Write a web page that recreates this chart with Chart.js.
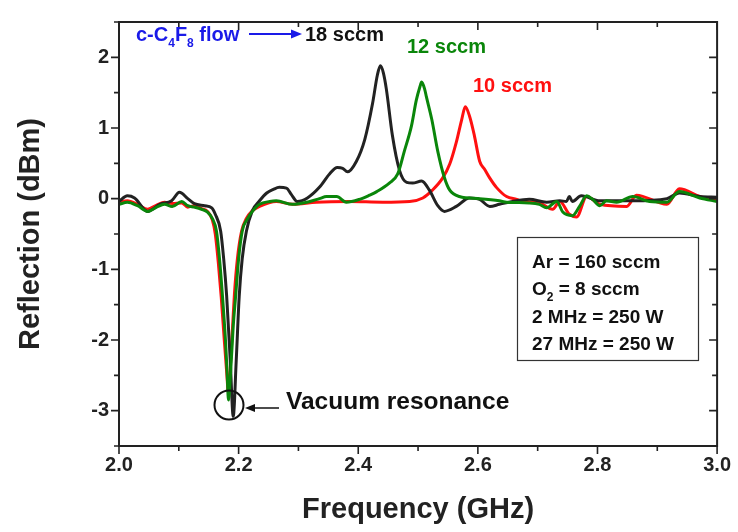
<!DOCTYPE html>
<html><head><meta charset="utf-8">
<script src="https://cdn.jsdelivr.net/npm/chart.js@4.4.0/dist/chart.umd.min.js"></script>
<style>html,body{margin:0;padding:0;background:#fff;}</style>
</head><body>
<canvas id="c" width="738" height="532"></canvas>
<script>
// ---- data ----
const freq18 = [2.000,2.014,2.026,2.048,2.068,2.088,2.101,2.115,2.126,2.143,2.155,2.161,2.170,2.175,2.180,2.186,2.191,2.196,2.201,2.206,2.213,2.223,2.235,2.247,2.258,2.268,2.280,2.288,2.298,2.315,2.335,2.352,2.365,2.374,2.382,2.397,2.411,2.424,2.432,2.437,2.442,2.447,2.457,2.469,2.481,2.491,2.506,2.519,2.533,2.544,2.564,2.586,2.603,2.620,2.636,2.658,2.686,2.715,2.737,2.748,2.753,2.758,2.773,2.804,2.859,2.916,2.937,2.971,3.000];
const refl18 = [-0.04,0.04,0.01,-0.18,-0.08,-0.03,0.09,0.0,-0.07,-0.1,-0.13,-0.22,-0.46,-0.85,-1.38,-2.29,-3.08,-2.29,-1.38,-0.85,-0.46,-0.17,-0.03,0.08,0.13,0.16,0.15,0.06,-0.04,0.01,0.16,0.35,0.44,0.43,0.38,0.53,0.84,1.35,1.75,1.88,1.78,1.55,0.9,0.4,0.23,0.22,0.25,0.12,-0.1,-0.18,-0.11,0.01,-0.01,-0.11,-0.08,-0.04,-0.01,-0.05,-0.03,-0.04,0.03,-0.04,0.04,-0.03,-0.03,0.0,0.08,0.03,0.02];

const freq12 = [2.000,2.014,2.031,2.048,2.063,2.076,2.089,2.105,2.115,2.126,2.138,2.148,2.156,2.163,2.168,2.173,2.178,2.181,2.183,2.187,2.191,2.195,2.200,2.206,2.215,2.223,2.235,2.252,2.263,2.290,2.319,2.335,2.347,2.364,2.380,2.402,2.419,2.431,2.452,2.466,2.477,2.489,2.497,2.503,2.506,2.511,2.514,2.523,2.533,2.544,2.553,2.569,2.603,2.636,2.648,2.686,2.703,2.715,2.732,2.742,2.758,2.770,2.782,2.792,2.804,2.815,2.832,2.859,2.887,2.916,2.937,2.971,3.000];
const refl12 = [-0.08,-0.05,-0.1,-0.18,-0.12,-0.08,-0.11,-0.04,-0.1,-0.12,-0.15,-0.19,-0.28,-0.46,-0.85,-1.38,-2.0,-2.5,-2.85,-2.4,-1.8,-1.38,-0.85,-0.46,-0.28,-0.18,-0.08,-0.04,-0.03,-0.08,-0.04,0.0,0.03,0.03,-0.05,-0.01,0.05,0.1,0.22,0.35,0.67,1.03,1.39,1.58,1.65,1.55,1.44,1.12,0.67,0.3,0.12,0.03,0.0,-0.03,-0.05,-0.06,-0.08,-0.13,-0.04,-0.19,-0.24,-0.11,0.04,-0.01,-0.1,-0.03,-0.05,0.03,-0.04,-0.05,0.1,0.01,-0.04];

const freq10 = [2.000,2.014,2.031,2.048,2.063,2.076,2.089,2.105,2.115,2.126,2.138,2.148,2.156,2.161,2.166,2.171,2.176,2.180,2.183,2.186,2.190,2.193,2.198,2.205,2.213,2.222,2.235,2.263,2.290,2.330,2.385,2.441,2.486,2.508,2.524,2.541,2.553,2.564,2.573,2.579,2.586,2.594,2.603,2.611,2.620,2.631,2.648,2.665,2.675,2.703,2.725,2.737,2.753,2.765,2.782,2.804,2.849,2.865,2.916,2.937,2.971,3.000];
const refl10 = [-0.05,-0.03,-0.08,-0.15,-0.09,-0.05,-0.07,-0.06,-0.12,-0.1,-0.14,-0.18,-0.3,-0.5,-0.9,-1.4,-2.0,-2.45,-2.75,-2.4,-1.8,-1.35,-0.85,-0.46,-0.28,-0.18,-0.11,-0.04,-0.08,-0.05,-0.04,-0.05,-0.04,0.01,0.12,0.29,0.49,0.8,1.12,1.3,1.17,0.9,0.53,0.42,0.29,0.16,0.03,-0.01,-0.04,-0.06,-0.15,-0.04,-0.22,-0.26,0.03,-0.08,-0.11,0.05,-0.08,0.14,0.03,-0.03];

const seriesLabels = ['12 sccm','18 sccm','10 sccm'];
const xTicks = [2.0,2.2,2.4,2.6,2.8,3.0];
const yTicks = [-3,-2,-1,0,1,2];
const boxLines = [[['Ar = 160 sccm',0]],[['O',0],['2',1],[' = 8 sccm',0]],[['2 MHz = 250 W',0]],[['27 MHz = 250 W',0]]];

const FONT = '"Liberation Sans", Arial, Helvetica, sans-serif';
const pts = (xs, ys) => xs.map((v, i) => ({x: v, y: ys[i]}));

function runs(ctx, parts, x0, yb, size, color) {
  let xx = x0;
  ctx.fillStyle = color;
  ctx.textAlign = 'left';
  ctx.textBaseline = 'alphabetic';
  for (const [t, sub] of parts) {
    const s = sub ? Math.round(size * 0.62) : size;
    ctx.font = `bold ${s}px ${FONT}`;
    ctx.fillText(t, xx, yb + (sub ? size * 0.3 : 0));
    xx += ctx.measureText(t).width;
  }
  return xx;
}
function arrow(ctx, x1, y1, x2, y2, color, lw, hl, hw) {
  const ang = Math.atan2(y2 - y1, x2 - x1);
  ctx.strokeStyle = color; ctx.fillStyle = color; ctx.lineWidth = lw;
  ctx.beginPath();
  ctx.moveTo(x1, y1);
  ctx.lineTo(x2 - hl * Math.cos(ang), y2 - hl * Math.sin(ang));
  ctx.stroke();
  ctx.beginPath();
  ctx.moveTo(x2, y2);
  ctx.lineTo(x2 - hl * Math.cos(ang) + hw * Math.sin(ang), y2 - hl * Math.sin(ang) - hw * Math.cos(ang));
  ctx.lineTo(x2 - hl * Math.cos(ang) - hw * Math.sin(ang), y2 - hl * Math.sin(ang) + hw * Math.cos(ang));
  ctx.closePath();
  ctx.fill();
}

const decor = {
  id: 'decor',
  afterDatasetsDraw(chart) {
    const {ctx, chartArea: a, scales: {x, y}} = chart;
    ctx.save();
    // frame
    ctx.strokeStyle = '#222'; ctx.lineWidth = 2;
    ctx.strokeRect(a.left, a.top, a.right - a.left, a.bottom - a.top);
    // ticks
    ctx.lineWidth = 1.6;
    ctx.beginPath();
    for (let i = 0; i <= 10; i++) {
      const p = x.getPixelForValue(2 + i * 0.1);
      const L = i % 2 === 0 ? 8 : 5;
      ctx.moveTo(p, a.bottom); ctx.lineTo(p, a.bottom + L);
      ctx.moveTo(p, a.top); ctx.lineTo(p, a.top + L);
    }
    for (let i = 0; i <= 12; i++) {
      const v = -3.5 + i * 0.5;
      const p = y.getPixelForValue(v);
      const L = Number.isInteger(v) ? 8 : 5;
      ctx.moveTo(a.left, p); ctx.lineTo(a.left - L, p);
      ctx.moveTo(a.right, p); ctx.lineTo(a.right - L, p);
    }
    ctx.stroke();

    // c-C4F8 flow annotation
    const blue = '#1a1ae8';
    runs(ctx, [['c-C',0],['4',1],['F',0],['8',1],[' flow',0]], 136, 41, 20, blue);
    arrow(ctx, 249, 34, 302, 34, blue, 2, 11, 4.5);
    runs(ctx, [['18 sccm',0]], 305, 41, 20, '#111');
    runs(ctx, [['12 sccm',0]], 407, 53, 20, '#0a860a');
    runs(ctx, [['10 sccm',0]], 473, 92, 20, '#ff1010');

    // condition box
    ctx.strokeStyle = '#333'; ctx.lineWidth = 1.2;
    ctx.strokeRect(517.5, 237.5, 181, 123);
    const bases = [268, 295, 323, 350];
    boxLines.forEach((ln, i) => runs(ctx, ln, 532, bases[i], 19, '#111'));

    // vacuum resonance marker
    ctx.strokeStyle = '#111'; ctx.lineWidth = 2;
    ctx.beginPath(); ctx.arc(229, 405, 14.5, 0, Math.PI * 2); ctx.stroke();
    arrow(ctx, 279, 408, 245, 408, '#111', 1.5, 10, 4);
    runs(ctx, [['Vacuum resonance',0]], 286, 409, 24.5, '#111');
    ctx.restore();
  }
};

new Chart(document.getElementById('c'), {
  type: 'line',
  data: {
    datasets: [
      {label: seriesLabels[0], data: pts(freq12, refl12), borderColor: '#0a860a'},
      {label: seriesLabels[1], data: pts(freq18, refl18), borderColor: '#222222'},
      {label: seriesLabels[2], data: pts(freq10, refl10), borderColor: '#ff1010'}
    ]
  },
  options: {
    responsive: false,
    animation: false,
    devicePixelRatio: 1,
    layout: {padding: {top: 6, right: 17, bottom: 0, left: 0}},
    elements: {
      point: {radius: 0},
      line: {borderWidth: 3, cubicInterpolationMode: 'monotone', fill: false}
    },
    plugins: {legend: {display: false}, tooltip: {enabled: false}},
    scales: {
      x: {
        type: 'linear', min: 2, max: 3,
        afterFit: s => { s.height = 86; },
        afterBuildTicks: s => { s.ticks = xTicks.map(v => ({value: v})); },
        grid: {display: false, drawTicks: false},
        border: {display: false},
        ticks: {color: '#222', padding: 7, font: {family: FONT, size: 20, weight: 'bold'}, callback: v => Number(v).toFixed(1), maxRotation: 0},
        title: {display: true, text: 'Frequency (GHz)', color: '#222', font: {family: FONT, size: 29, weight: 'bold'}, padding: {top: 0, bottom: 5}}
      },
      y: {
        type: 'linear', min: -3.5, max: 2.5,
        afterFit: s => { s.width = 119; },
        afterBuildTicks: s => { s.ticks = yTicks.map(v => ({value: v})); },
        grid: {display: false, drawTicks: false},
        border: {display: false},
        ticks: {color: '#222', padding: 10, font: {family: FONT, size: 20, weight: 'bold'}, callback: v => String(v)},
        title: {display: true, text: 'Reflection (dBm)', color: '#222', font: {family: FONT, size: 29, weight: 'bold'}, padding: {top: 14, bottom: 0}}
      }
    }
  },
  plugins: [decor]
});
</script>
</body></html>
